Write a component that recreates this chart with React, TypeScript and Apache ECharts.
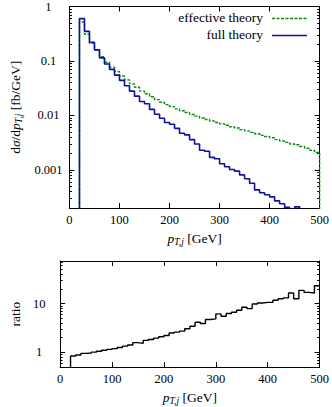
import React, { useEffect, useRef } from "react";
import * as echarts from "echarts";

// ---- data (bins of 10 GeV, left edges) ----
const binStart = [
  20, 30, 40, 50, 60, 70, 80, 90, 100, 110, 120, 130, 140, 150, 160, 170,
  180, 190, 200, 210, 220, 230, 240, 250, 260, 270, 280, 290, 300, 310, 320, 330,
  340, 350, 360, 370, 380, 390, 400, 410, 420, 430, 440, 450, 460, 470, 480, 490,
];
const binEnd = 500;

const effectiveTheory = [
  0.52, 0.31, 0.21, 0.16, 0.12, 0.095, 0.077, 0.064, 0.053, 0.045, 0.038, 0.033, 0.028, 0.025, 0.022, 0.0195,
  0.0175, 0.0158, 0.0145, 0.0132, 0.0122, 0.0113, 0.0104, 0.0097, 0.009, 0.0084, 0.0079, 0.0074, 0.007, 0.0066, 0.0062, 0.0059,
  0.0055, 0.0052, 0.0049, 0.0046, 0.0043, 0.0041, 0.0039, 0.0036, 0.0034, 0.0032, 0.003, 0.0029, 0.0027, 0.0025, 0.0023, 0.0021,
];

const fullTheory = [
  0.6, 0.35, 0.22, 0.16, 0.114, 0.088, 0.07, 0.055, 0.044, 0.035, 0.028, 0.0226, 0.018, 0.0164, 0.0129, 0.0105,
  0.0089, 0.0074, 0.0069, 0.0058, 0.0047, 0.0044, 0.0036, 0.003, 0.0023, 0.0022, 0.0017, 0.0016, 0.0013, 0.00114, 0.00102, 0.00095,
  0.00081, 0.00069, 0.00057, 0.00043, 0.00038, 0.00035, 0.00032, 0.00027, 0.00024, 0.000205, 0.00018, 0.00021, 0.00015, 0.00014, 0.00014, 0.00009,
];

const ratio = [
  0.84, 0.88, 0.95, 0.97, 1.01, 1.05, 1.1, 1.15, 1.19, 1.26, 1.34, 1.41, 1.58, 1.53, 1.76, 1.84,
  1.96, 2.09, 2.22, 2.5, 2.6, 2.72, 3.04, 3.44, 4.16, 3.91, 4.71, 4.86, 6.15, 5.5, 6.25, 6.65,
  7.3, 8.4, 7.9, 9.85, 10.3, 10.6, 10.6, 11.7, 12.6, 13.1, 16.5, 12.6, 18.7, 17.0, 16.5, 23.3,
];

const xTicks = [0, 100, 200, 300, 400, 500];

const upperMajor = [0.001, 0.01, 0.1, 1];
const upperMajorLabels = ["0.001", "0.01", "0.1", "1"];
const upperMinor = [
  0.0002, 0.0003, 0.0004, 0.0005, 0.0006, 0.0007, 0.0008, 0.0009,
  0.002, 0.003, 0.004, 0.005, 0.006, 0.007, 0.008, 0.009,
  0.02, 0.03, 0.04, 0.05, 0.06, 0.07, 0.08, 0.09,
  0.2, 0.3, 0.4, 0.5, 0.6, 0.7, 0.8, 0.9,
];
const lowerMajor = [1, 10];
const lowerMajorLabels = ["1", "10"];
const lowerMinor = [0.6, 0.7, 0.8, 0.9, 2, 3, 4, 5, 6, 7, 8, 9, 20, 30, 40, 50, 60, 70];

const legendNames = ["effective theory", "full theory"];

const FONT = "Liberation Serif";
const FS_TICK = 12.5;
const FS = 13.5;
const BLUE = "#1010a0";
const GREEN = "#0a8c0a";

const rich = {
  r: { fontFamily: FONT, fontSize: FS, color: "#000", lineHeight: 17 },
  i: { fontFamily: FONT, fontSize: FS, fontStyle: "italic", color: "#000", lineHeight: 17 },
  s: { fontFamily: FONT, fontSize: 9.5, fontStyle: "italic", color: "#000", lineHeight: 17, verticalAlign: "bottom" },
};

function histData(values: number[], closeBottom: boolean) {
  const pts: [number, number][] = [[binStart[0], 1e-9]];
  binStart.forEach((x, i) => pts.push([x, values[i]]));
  pts.push([binEnd, values[values.length - 1]]);
  if (closeBottom) pts.push([binEnd, 1e-9]);
  return pts;
}

function makeXAxes(gridIndex: number) {
  const line = { show: true, lineStyle: { color: "#000", width: 1 } };
  return [
    {
      type: "value", gridIndex, min: xTicks[0], max: xTicks[xTicks.length - 1], interval: 100, position: "bottom",
      axisLine: line, axisTick: { show: true, inside: true, length: 5, lineStyle: { color: "#000" } },
      axisLabel: { fontFamily: FONT, fontSize: FS_TICK, color: "#000", margin: 5 },
      splitLine: { show: false },
      name: "{i|p}{s|T,j}{r| [GeV]}", nameLocation: "middle", nameGap: 22,
      nameTextStyle: { rich, fontFamily: FONT, fontSize: FS, color: "#000" },
    },
    {
      type: "value", gridIndex, min: xTicks[0], max: xTicks[xTicks.length - 1], interval: 100, position: "top",
      axisLine: line, axisTick: { show: true, inside: true, length: 5, lineStyle: { color: "#000" } },
      axisLabel: { show: false }, splitLine: { show: false },
    },
  ];
}

function makeYAxes(gridIndex: number, min: number, max: number, majors: number[], labels: string[], minors: number[], name: string, nameGap: number) {
  const base = { type: "log", logBase: 10, gridIndex, min, max, splitLine: { show: false } };
  const line = { show: true, lineStyle: { color: "#000", width: 1 } };
  const fmt = (v: number) => {
    const k = majors.findIndex((m) => Math.abs(Math.log10(m) - Math.log10(v)) < 1e-6);
    return k >= 0 ? labels[k] : "";
  };
  return [
    {
      ...base, position: "left", axisLine: line,
      axisTick: { show: true, inside: true, length: 5, customValues: majors, lineStyle: { color: "#000" } },
      axisLabel: { show: true, customValues: majors, formatter: fmt, align: "center", margin: 21, fontFamily: FONT, fontSize: FS_TICK, color: "#000" },
      name, nameLocation: "middle", nameRotate: 90, nameGap, nameTextStyle: { rich, fontFamily: FONT, fontSize: FS, color: "#000" },
    },
    {
      ...base, position: "left", axisLine: { show: false },
      axisTick: { show: true, inside: true, length: 2.5, customValues: minors, lineStyle: { color: "#000" } },
      axisLabel: { show: false },
    },
    {
      ...base, position: "right", axisLine: line,
      axisTick: { show: true, inside: true, length: 5, customValues: majors, lineStyle: { color: "#000" } },
      axisLabel: { show: false },
    },
    {
      ...base, position: "right", axisLine: { show: false },
      axisTick: { show: true, inside: true, length: 2.5, customValues: minors, lineStyle: { color: "#000" } },
      axisLabel: { show: false },
    },
  ];
}

export default function App() {
  const ref = useRef<HTMLDivElement>(null);
  useEffect(() => {
    if (!ref.current) return;
    const chart = echarts.init(ref.current, undefined, { renderer: "svg" });
    const legendText = { fontFamily: FONT, fontSize: FS, fill: "#000" };
    chart.setOption({
      animation: false,
      backgroundColor: "#fff",
      textStyle: { fontFamily: FONT },
      grid: [
        { left: 59, right: 11.5, top: 5, height: 203 },
        { left: 59, right: 11.5, top: 261, height: 106 },
      ],
      graphic: [
        { type: "text", right: 69, top: 10, style: { ...legendText, text: legendNames[0] } },
        { type: "text", right: 69, top: 27, style: { ...legendText, text: legendNames[1] } },
        { type: "line", shape: { x1: 272, y1: 18.5, x2: 307, y2: 18.5 }, style: { stroke: GREEN, lineWidth: 1.4, lineDash: [3, 1.5] } },
        { type: "line", shape: { x1: 272, y1: 35.5, x2: 307, y2: 35.5 }, style: { stroke: BLUE, lineWidth: 1.6 } },
      ],
      xAxis: [...makeXAxes(0), ...makeXAxes(1)],
      yAxis: [
        ...makeYAxes(0, 0.0002, 1, upperMajor, upperMajorLabels, upperMinor,
          "{r|d}{i|σ}{r|/d}{i|p}{s|T,j}{r| [fb/GeV]}", 37),
        ...makeYAxes(1, 0.5, 75, lowerMajor, lowerMajorLabels, lowerMinor, "{r|ratio}", 31),
      ],
      series: [
        {
          name: legendNames[0], type: "line", xAxisIndex: 0, yAxisIndex: 0, step: "end",
          showSymbol: false, symbol: "none", clip: true,
          lineStyle: { color: GREEN, width: 1.4, type: [3, 1.5] }, itemStyle: { color: GREEN },
          data: histData(effectiveTheory, true),
        },
        {
          name: legendNames[1], type: "line", xAxisIndex: 0, yAxisIndex: 0, step: "end",
          showSymbol: false, symbol: "none", clip: true,
          lineStyle: { color: BLUE, width: 1.6 }, itemStyle: { color: BLUE },
          data: histData(fullTheory, false),
        },
        {
          name: "ratio", type: "line", xAxisIndex: 2, yAxisIndex: 4, step: "end",
          showSymbol: false, symbol: "none", clip: true,
          lineStyle: { color: "#000", width: 1.4 }, itemStyle: { color: "#000" },
          data: histData(ratio, false),
        },
      ],
    });
    return () => chart.dispose();
  }, []);
  return <div ref={ref} style={{ position: "fixed", left: 0, top: 0, width: 332, height: 407, background: "#fff" }} />;
}
